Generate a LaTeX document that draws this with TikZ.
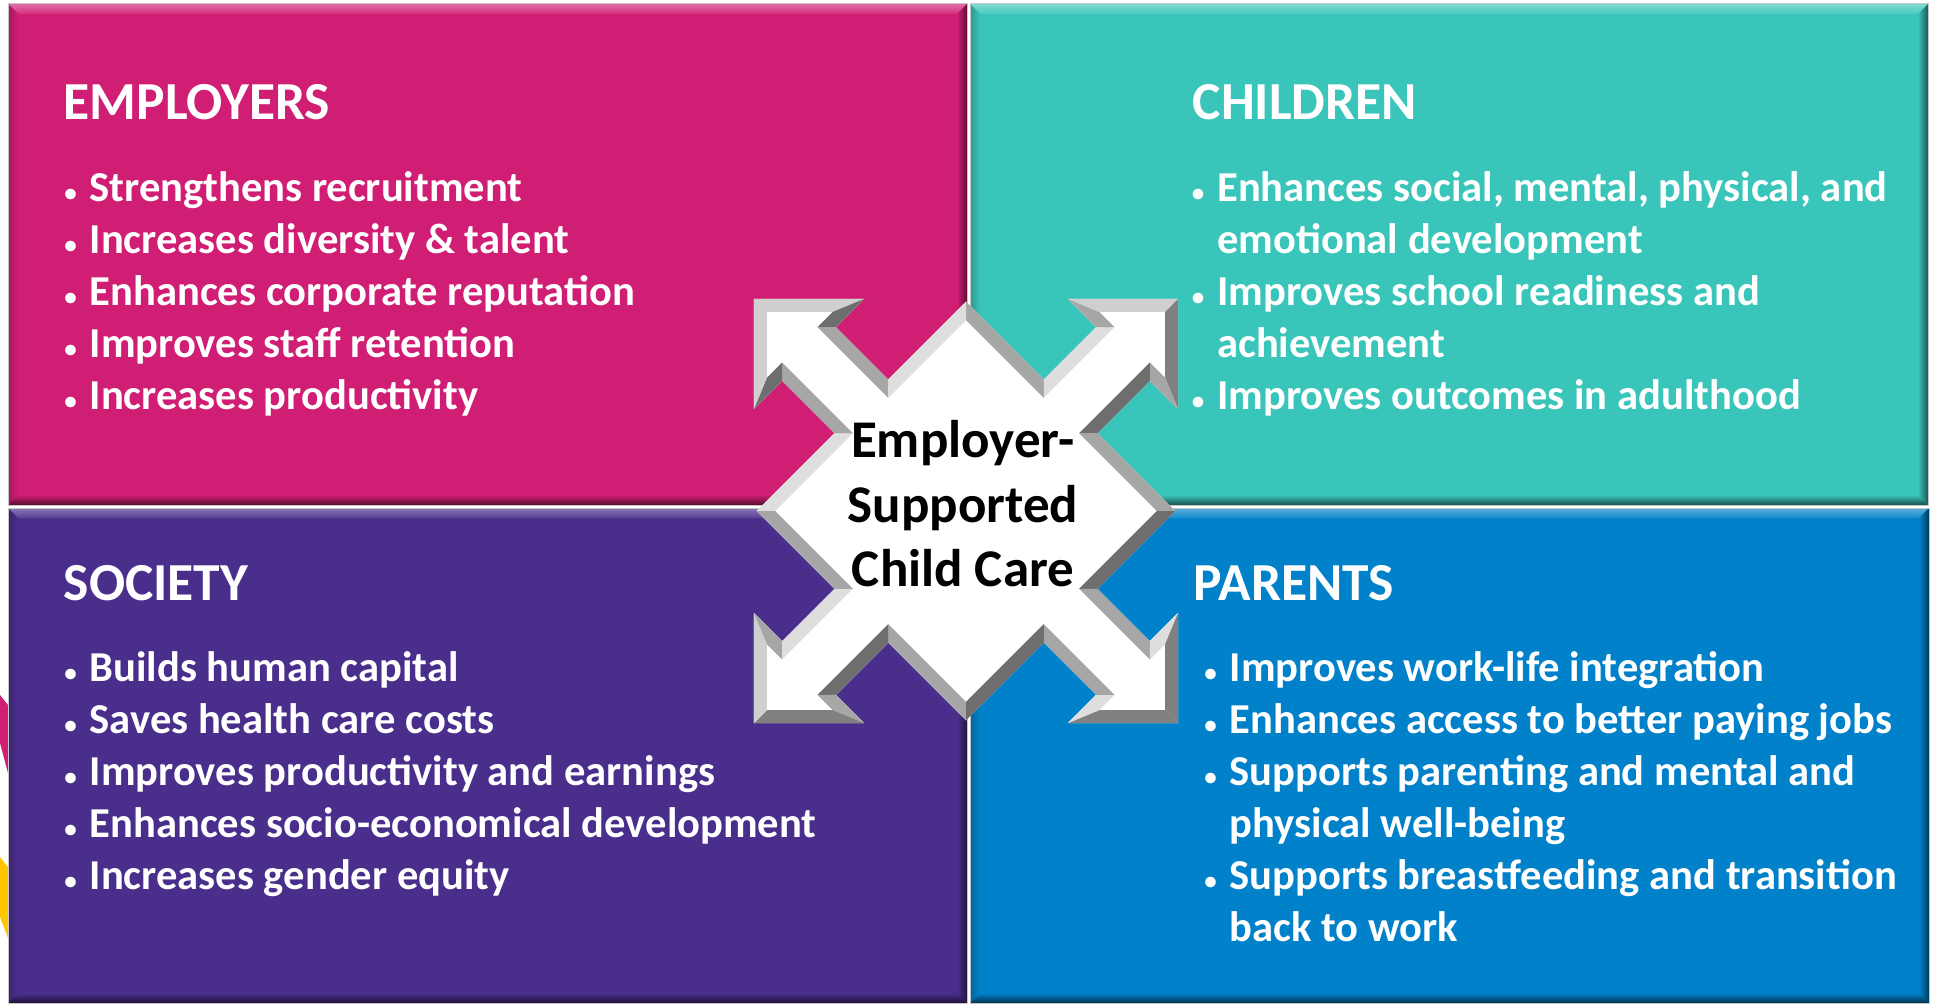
\documentclass[tikz,border=0pt]{standalone}
\usepackage{fontspec}
\setmainfont{Carlito}
\definecolor{cEmp}{RGB}{208,30,116}
\definecolor{cChi}{RGB}{57,197,185}
\definecolor{cSoc}{RGB}{74,46,140}
\definecolor{cPar}{RGB}{0,129,201}
\definecolor{cYel}{RGB}{255,198,0}
\newcommand\blt{\llap{\makebox[38pt]{\fontsize{25}{25}\selectfont\textbullet}}}
\newcommand\bevrect[5]{%
  \fill[#5] (#1,#2) rectangle (#3,#4);
  \shade[top color=#5!65!white, bottom color=#5!92!white] (#1,#2) -- (#3,#2) -- ({#3-10},{#2+10}) -- ({#1+10},{#2+10}) -- cycle;
  \shade[left color=#5!78!black, right color=#5] (#1,#2) -- ({#1+10},{#2+10}) -- ({#1+10},{#4-10}) -- (#1,#4) -- cycle;
  \shade[left color=#5, right color=#5!45!black] (#3,#2) -- (#3,#4) -- ({#3-10},{#4-10}) -- ({#3-10},{#2+10}) -- cycle;
  \shade[top color=#5, bottom color=#5!40!black] (#1,#4) -- (#3,#4) -- ({#3-10},{#4-10}) -- ({#1+10},{#4-10}) -- cycle;
  \draw[gray!45, line width=1pt] (#1,#2) rectangle (#3,#4);
}
\tikzset{
  hd/.style={anchor=base west, inner sep=0pt, text=white, font=\bfseries\fontsize{53.5}{64}\selectfont},
  ln/.style={anchor=base west, inner sep=0pt, text=white, font=\bfseries\fontsize{42.6}{52}\selectfont},
  hub/.style={anchor=base, inner sep=0pt, text=black, font=\bfseries\fontsize{53}{65}\selectfont}
}
\begin{document}
\begin{tikzpicture}[x=1pt,y=-1pt]
\useasboundingbox (0,0) rectangle (1937,1006);
\fill[white] (0,0) rectangle (1937,1006);
% background fragments at left edge
\fill[cEmp] (0,695) -- (8,705) -- (8,773) -- (0,743) -- cycle;
\fill[cYel] (0,857) -- (8,867) -- (8,938) -- (0,917) -- cycle;
% quadrants
\bevrect{8}{4}{967}{505}{cEmp}
\bevrect{970}{4}{1928}{505}{cChi}
\bevrect{8}{508}{967}{1003}{cSoc}
\bevrect{970}{508}{1929}{1003}{cPar}
% central four-headed arrow
\foreach \k in {0,1,2,3}{
  \begin{scope}[shift={(966,511)},rotate=45+90*\k]
    \fill[white] (0,0) -- (148,-148) -- (148,-38) -- (222,-38) -- (222,-78) -- (300,0) -- (222,78) -- (222,38) -- (148,38) -- (148,148) -- cycle;
  \end{scope}
}
\foreach \k in {0,1,2,3}{
  \foreach \ox/\oy/\px/\py/\ix/\iy/\jx/\jy/\al in {
    148/-148/148/-38/135/-135/135/-25/0,
    148/-38/222/-38/135/-25/235/-25/-90,
    222/-38/222/-78/235/-25/235/-46.62/180,
    222/-78/300/0/235/-46.62/281.62/0/-45,
    300/0/222/78/281.62/0/235/46.62/45,
    222/78/222/38/235/46.62/235/25/180,
    222/38/148/38/235/25/135/25/90,
    148/38/148/148/135/25/135/135/0}{
    \pgfmathtruncatemacro\pc{35-22*cos(45+90*\k-\al-135)}
    \fill[black!\pc, shift={(966,511)}, rotate=45+90*\k] (\ox,\oy) -- (\px,\py) -- (\jx,\jy) -- (\ix,\iy) -- cycle;
  }
}
\node[hub] (c1) at (963,457) {Employer-};
\node[hub] (c2) at (963,522) {Supported};
\node[hub] (c3) at (963,586) {Child Care};
% EMPLOYERS
\node[hd] (eh) at (63.5,120) {EMPLOYERS};
\node[ln] (e1) at (89.5,201) {\blt Strengthens recruitment};
\node[ln] (e2) at (89.5,253) {\blt Increases diversity \& talent};
\node[ln] (e3) at (89.5,305) {\blt Enhances corporate reputation};
\node[ln] (e4) at (89.5,357) {\blt Improves staff retention};
\node[ln] (e5) at (89.5,409) {\blt Increases productivity};
% CHILDREN
\node[hd] (ch) at (1192.5,120) {CHILDREN};
\node[ln] (k1) at (1217,201) {\blt Enhances social, mental, physical, and};
\node[ln] (k1b) at (1217,253) {emotional development};
\node[ln] (k2) at (1217,305) {\blt Improves school readiness and};
\node[ln] (k2b) at (1217,357) {achievement};
\node[ln] (k3) at (1217,409) {\blt Improves outcomes in adulthood};
% SOCIETY
\node[hd] (sh) at (63.5,600) {SOCIETY};
\node[ln] (s1) at (89.5,681) {\blt Builds human capital};
\node[ln] (s2) at (89.5,733) {\blt Saves health care costs};
\node[ln] (s3) at (89.5,785) {\blt Improves productivity and earnings};
\node[ln] (s4) at (89.5,837) {\blt Enhances socio-economical development};
\node[ln] (s5) at (89.5,889) {\blt Increases gender equity};
% PARENTS
\node[hd] (ph) at (1193.5,600) {PARENTS};
\node[ln] (p1) at (1229.5,681) {\blt Improves work-life integration};
\node[ln] (p2) at (1229.5,733) {\blt Enhances access to better paying jobs};
\node[ln] (p3) at (1229.5,785) {\blt Supports parenting and mental and};
\node[ln] (p3b) at (1229.5,837) {physical well-being};
\node[ln] (p4) at (1229.5,889) {\blt Supports breastfeeding and transition};
\node[ln] (p4b) at (1229.5,941) {back to work};
\end{tikzpicture}
\end{document}
